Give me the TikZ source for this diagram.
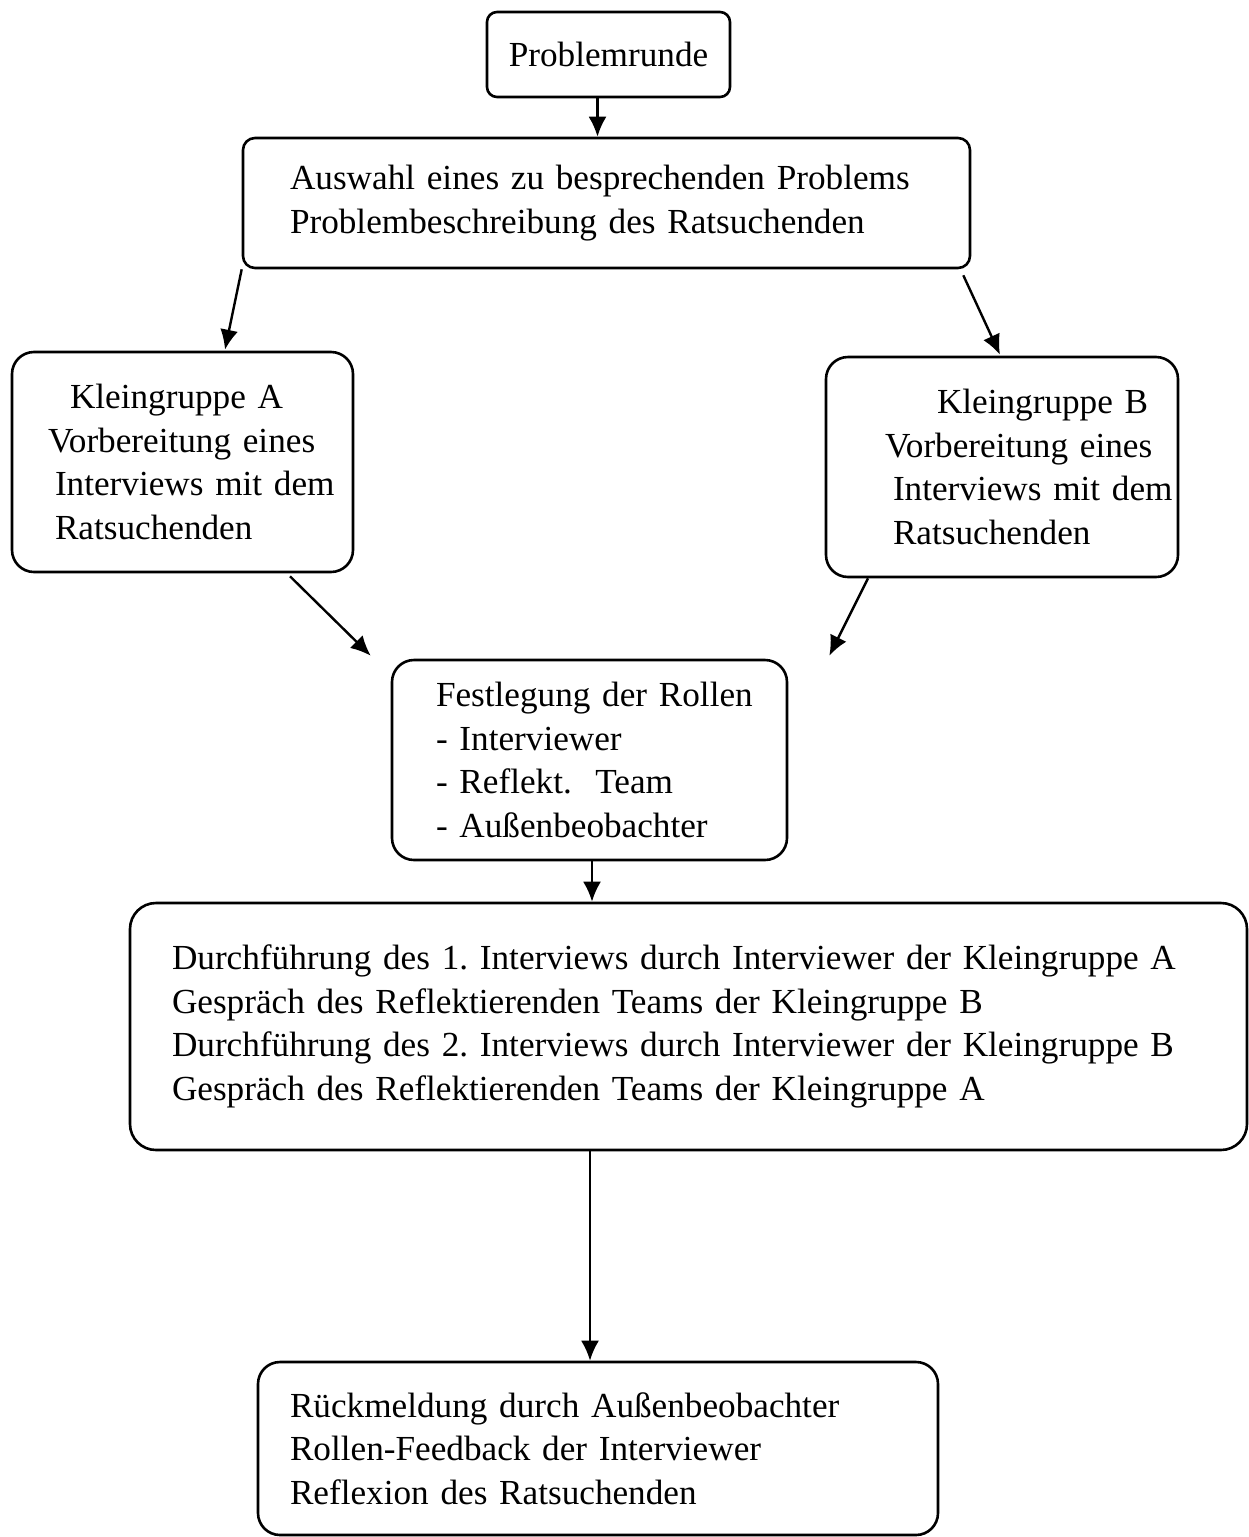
\documentclass[tikz,border=0pt]{standalone}
\usepackage{fontspec}
\setmainfont{Liberation Serif}
\usetikzlibrary{arrows.meta,calc}
\begin{document}
\frenchspacing
\begin{tikzpicture}[x=1pt,y=-1pt,
  box/.style={draw, line width=2.6pt, rounded corners=#1, font=\fontsize{35.2}{43.5}\selectfont\frenchspacing},
  box/.default=18pt,
  arr/.style={line width=2.4pt, -{Latex[length=20pt,width=18pt]}}]
\useasboundingbox (0,0) rectangle (1249,1537);

\node[box=10pt, minimum width=243, minimum height=85, inner sep=0] (p1) at (608.5,54.5) {Problemrunde};

\node[box=12pt, minimum width=727, minimum height=130, inner xsep=47, inner ysep=0,
      text width=633, align=left] (p2) at (606.5,203)
  {\mbox{Auswahl eines zu besprechenden Problems}\\\mbox{Problembeschreibung des Ratsuchenden}};

\node[box=22pt, minimum width=341, minimum height=220, inner xsep=36, inner ysep=0,
      text width=269, align=left] (kA) at (182.5,462)
  {\mbox{\hspace*{22pt}Kleingruppe A}\\\mbox{Vorbereitung eines}\\\mbox{\hspace*{7pt}Interviews mit dem}\\\mbox{\hspace*{7pt}Ratsuchenden}};

\node[box=22pt, minimum width=352, minimum height=220, inner xsep=59, inner ysep=0,
      text width=234, align=left] (kB) at (1002,467)
  {\mbox{\hspace*{52pt}Kleingruppe B}\\\mbox{Vorbereitung eines}\\\mbox{\hspace*{8pt}Interviews mit dem}\\\mbox{\hspace*{8pt}Ratsuchenden}};

\node[box=22pt, minimum width=395, minimum height=200, inner xsep=44, inner ysep=0,
      text width=307, align=left] (p5) at (589.5,760)
  {\mbox{Festlegung der Rollen}\\\mbox{- Interviewer}\\\mbox{- Reflekt.\ \ Team}\\\mbox{- Außenbeobachter}};

\node[box=26pt, minimum width=1117, minimum height=247, inner xsep=42, inner ysep=0,
      text width=1033, align=left] (p6) at (688.5,1026.5)
  {\mbox{Durchführung des 1. Interviews durch Interviewer der Kleingruppe A}\\
   \mbox{Gespräch des Reflektierenden Teams der Kleingruppe B}\\
   \mbox{Durchführung des 2. Interviews durch Interviewer der Kleingruppe B}\\
   \mbox{Gespräch des Reflektierenden Teams der Kleingruppe A}};

\node[box=22pt, minimum width=680, minimum height=173, inner xsep=32, inner ysep=0,
      text width=616, align=left] (p7) at (598,1448.5)
  {\mbox{Rückmeldung durch Außenbeobachter}\\\mbox{Rollen-Feedback der Interviewer}\\\mbox{Reflexion des Ratsuchenden}};

\draw[arr] ([xshift=-11pt]p1.south) -- ([xshift=-11pt]p1.south |- p2.north);
\draw[arr] (p2.south west) -- ([xshift=42.5pt,yshift=1pt]kA.north);
\draw[arr] ([xshift=-8pt,yshift=-6pt]p2.south east) -- ([xshift=-2pt,yshift=1pt]kB.north);
\coordinate (fa) at ([xshift=-20pt,yshift=3pt]p5.north west);
\coordinate (fb) at ([xshift=41pt,yshift=3pt]p5.north east);
\draw[arr] ([xshift=107.5pt,yshift=-3pt]kA.south) -- (fa);
\draw[arr] ([xshift=-134pt]kB.south) -- (fb);
\draw[arr] ([xshift=2.5pt]p5.south) -- ([xshift=2.5pt]p5.south |- p6.north);
\draw[arr] ([xshift=-8pt]p7.north |- p6.south) -- ([xshift=-8pt]p7.north);
\end{tikzpicture}
\end{document}
